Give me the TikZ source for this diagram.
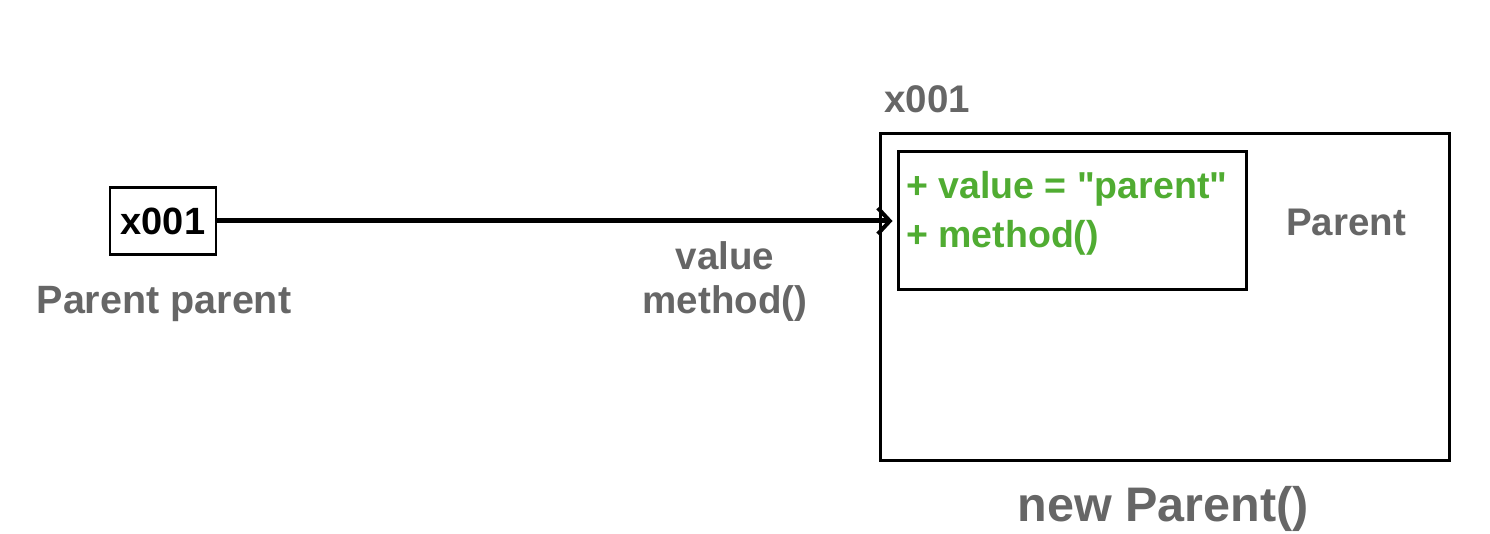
\documentclass[tikz,border=0pt]{standalone}
\usepackage{fontspec}
\setmainfont{Liberation Sans}[Ligatures=TeXOff]
\usetikzlibrary{arrows.meta}
\definecolor{labgray}{HTML}{666666}
\definecolor{attrgreen}{RGB}{80,172,50}
\tikzset{
  boxline/.style={draw=black, line width=3pt, inner sep=0pt},
  graylab/.style={text=labgray, font=\fontsize{38.5}{44}\selectfont\bfseries, inner sep=0pt},
  greenlab/.style={text=attrgreen, font=\fontsize{37.5}{44}\selectfont\bfseries, inner sep=0pt, anchor=base west},
  refarrow/.style={line width=5pt, -{Straight Barb[length=12pt,width=26pt,line width=4pt]}, shorten >=4pt}
}
\begin{document}
\begin{tikzpicture}[x=1pt,y=-1pt]
\useasboundingbox (0,0) rectangle (1490,534);
% reference variable box
\node[boxline, line width=2.5pt, minimum width=106pt, minimum height=67pt,
      font=\fontsize{38}{44}\selectfont\bfseries] (ref) at (163,221) {x001};
\node[graylab, anchor=base, font=\fontsize{39.5}{44}\selectfont\bfseries] (reflab) at (164,313) {Parent parent};
% object
\node[boxline, minimum width=569pt, minimum height=326pt] (obj) at (1164.5,297) {};
\node[boxline, minimum width=348pt, minimum height=138pt] (attrs) at (1072,221) {};
\node[graylab, anchor=base west] (addr) at (884,113) {x001};
\node[greenlab] (attr1) at (906,199) {+ value = "parent"};
\node[greenlab] (attr2) at (906,248) {+ method()};
\node[graylab, anchor=base] (cls) at (1346,236) {Parent};
\node[graylab, anchor=base, font=\fontsize{48.5}{56}\selectfont\bfseries] (newlab) at (1163,521) {new Parent()};
% arrow
\draw[refarrow] (ref.east) -- (attrs.west);
\node[graylab, anchor=base] (v1) at (725,270) {value};
\node[graylab, anchor=base] (v2) at (725,314) {method()};
\end{tikzpicture}
\end{document}
